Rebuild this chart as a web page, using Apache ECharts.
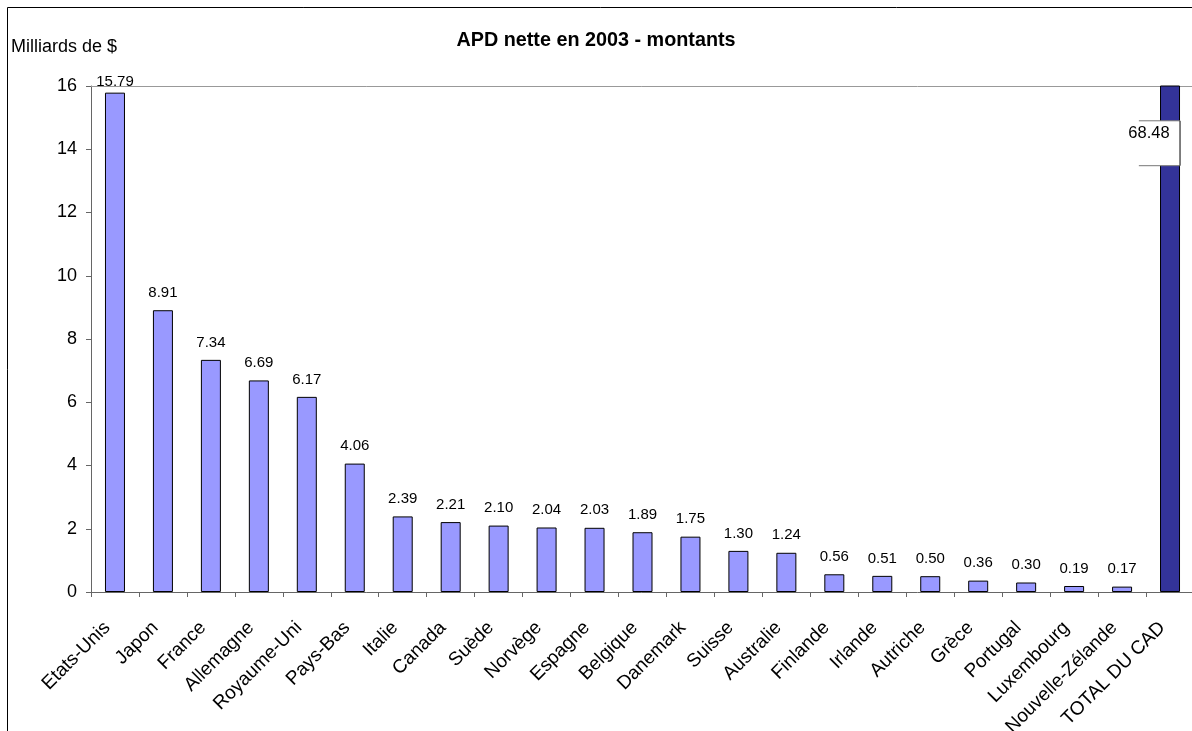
<!DOCTYPE html>
<html><head><meta charset="utf-8">
<script src="https://cdn.jsdelivr.net/npm/echarts@6/dist/echarts.min.js"></script>
<style>html,body{margin:0;padding:0;background:#fff}#c{width:1192px;height:731px}</style>
</head><body><div id="c"></div>
<script>
const categories = ['Etats-Unis','Japon','France','Allemagne','Royaume-Uni','Pays-Bas','Italie','Canada','Suède','Norvège','Espagne','Belgique','Danemark','Suisse','Australie','Finlande','Irlande','Autriche','Grèce','Portugal','Luxembourg','Nouvelle-Zélande','TOTAL DU CAD'];
const countryValues = [15.79,8.91,7.34,6.69,6.17,4.06,2.39,2.21,2.10,2.04,2.03,1.89,1.75,1.30,1.24,0.56,0.51,0.50,0.36,0.30,0.19,0.17,null];
const totalValues = [null,null,null,null,null,null,null,null,null,null,null,null,null,null,null,null,null,null,null,null,null,null,68.48];
const yTicks = [0,2,4,6,8,10,12,14,16];
// axis break drawn on the total bar: [category index, break low, break high, real value]
const breakMarks = [[22, 13.48, 14.9, 68.48]];

const yMax = yTicks[yTicks.length-1];
const countryData = countryValues.map(v => (v !== null && v > yMax - 1) ? {value: v, label: {distance: 3}} : v);

const chart = echarts.init(document.getElementById('c'));
chart.setOption({
  animation: false,
  textStyle: {fontFamily: 'Liberation Sans, Arial, sans-serif'},
  title: [
    {text: 'APD nette en 2003 - montants', left: 'center', top: 26,
     textStyle: {fontSize: 19.8, fontWeight: 'bold', color: '#000'}},
    {text: 'Milliards de $', left: 6, top: 33,
     textStyle: {fontSize: 18, fontWeight: 'normal', color: '#000'}}
  ],
  graphic: [{type: 'rect', left: 5, top: 5, shape: {width: 1300, height: 900},
    style: {fill: 'none', stroke: '#000', lineWidth: 1}, silent: true}],
  grid: {left: 91, right: -2, top: 86, bottom: 139, containLabel: false, outerBoundsMode: 'none'},
  xAxis: [{
    type: 'category', data: categories,
    axisLine: {lineStyle: {color: '#666', width: 1}},
    axisTick: {show: true, length: 5, lineStyle: {color: '#666'}},
    axisLabel: {interval: 0, rotate: 45, fontSize: 19, color: '#000', margin: 25, padding: [0, 11, 0, 0]}
  }, {
    type: 'category', position: 'top', data: categories,
    axisLine: {show: true, lineStyle: {color: '#999', width: 1}},
    axisTick: {show: false}, axisLabel: {show: false}
  }],
  yAxis: {
    type: 'value', min: yTicks[0], max: yMax, interval: yTicks[1]-yTicks[0],
    axisLine: {show: true, lineStyle: {color: '#666', width: 1}},
    axisTick: {show: true, length: 5, lineStyle: {color: '#666'}},
    splitLine: {show: false},
    axisLabel: {fontSize: 18, color: '#000', margin: 14}
  },
  series: [{
    type: 'bar', data: countryData, barWidth: 20, barGap: '-100%',
    itemStyle: {color: '#9999FF', borderColor: '#000', borderWidth: 1},
    label: {show: true, position: 'top', distance: 10, fontSize: 15, color: '#000',
      formatter: p => Number(p.value).toFixed(2)}
  }, {
    type: 'bar', data: totalValues, barWidth: 20, clip: true,
    itemStyle: {color: '#333399', borderColor: '#000', borderWidth: 1}
  }, {
    type: 'custom', data: breakMarks, z: 10,
    renderItem: function (params, api) {
      const idx = api.value(0);
      const lo = api.coord([idx, api.value(1)]);
      const hi = api.coord([idx, api.value(2)]);
      const band = api.size([1, 0])[0];
      const cx = lo[0];
      const x0 = cx - band * 0.65, x1 = cx + 10;
      return {type: 'group', children: [
        {type: 'rect', shape: {x: x0, y: hi[1], width: x1 - x0 + 1, height: lo[1] - hi[1]},
         style: {fill: '#fff', stroke: null}},
        {type: 'line', shape: {x1: x0, y1: hi[1], x2: x1, y2: hi[1]}, style: {stroke: '#777', lineWidth: 1}},
        {type: 'line', shape: {x1: x0, y1: lo[1], x2: x1, y2: lo[1]}, style: {stroke: '#777', lineWidth: 1}},
        {type: 'line', shape: {x1: x1, y1: hi[1], x2: x1, y2: lo[1]}, style: {stroke: '#000', lineWidth: 1}},
        {type: 'text', x: cx - band * 0.44, y: hi[1] + 13,
         style: {text: api.value(3).toFixed(2), fontSize: 16.5, fill: '#000', align: 'center', verticalAlign: 'middle',
                 fontFamily: 'Liberation Sans, Arial, sans-serif'}}
      ]};
    }
  }]
});
</script></body></html>
